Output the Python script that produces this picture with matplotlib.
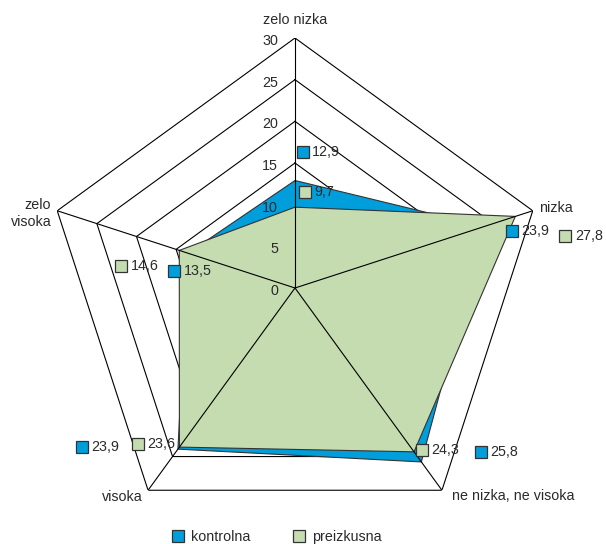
import numpy as np
import matplotlib
matplotlib.use("Agg")
import matplotlib.pyplot as plt
from matplotlib.lines import Line2D
from matplotlib.transforms import offset_copy

# data
categories = ["zelo nizka", "nizka", "ne nizka, ne visoka", "visoka", "zelo\nvisoka"]
kontrolna = [12.9, 23.9, 25.8, 23.9, 13.5]
preizkusna = [9.7, 27.8, 24.3, 23.6, 14.6]
ticks = [0, 5, 10, 15, 20, 25, 30]
series_names = ["kontrolna", "preizkusna"]

BLUE = "#009edb"
GREEN = "#c5dcb0"
EDGE = "#333333"
TXT = "#2a2a2a"

plt.rcParams["font.family"] = ["Liberation Sans", "DejaVu Sans"]
plt.rcParams["font.size"] = 10.3

fig = plt.figure(figsize=(6.06, 5.44), dpi=100)
# centre at (295, 288) px, radius 250 px
ax = fig.add_axes([45 / 606, 6 / 544, 500 / 606, 500 / 544], projection="polar")
ax.set_theta_offset(np.pi / 2)
ax.set_theta_direction(-1)
ax.set_ylim(0, 30)
ax.set_axis_off()

n = len(categories)
angles = np.linspace(0, 2 * np.pi, n, endpoint=False)
closed = np.append(angles, angles[0])

# pentagon grid
for t in ticks[1:]:
    ax.plot(closed, [t] * (n + 1), color="black", lw=0.8, zorder=1)

# series
kv = np.append(kontrolna, kontrolna[0])
pv = np.append(preizkusna, preizkusna[0])
ax.fill(closed, kv, facecolor=BLUE, edgecolor=EDGE, lw=0.8, zorder=2)
ax.fill(closed, pv, facecolor=GREEN, edgecolor=EDGE, lw=0.8, zorder=3)

# spokes
for a in angles:
    ax.plot([a, a], [0, 30], color="black", lw=0.8, zorder=4)

# radial tick labels
for t in ticks:
    ax.annotate(str(t), (0, t), xytext=(-17, -3), textcoords="offset pixels",
                ha="right", va="center", color=TXT, zorder=6)

# category labels (offsets in pixels, x right / y up)
cat_off = [(0, 18, "center"), (6, 3, "left"), (10, -6, "left"), (-5, -7, "right"), (-6, -3, "right")]
for a, lab, (dx, dy, ha) in zip(angles, categories, cat_off):
    ax.annotate(lab, (a, 30), xytext=(dx, dy), textcoords="offset pixels",
                ha=ha, va="center", color=TXT, linespacing=1.3, annotation_clip=False)

# value labels: square marker + text, offsets in pixels
k_off = [(7.5, 29), (27.6, -5), (59.6, 10), (-96.4, 2.6), (-14, -17.8)]
p_off = [(10, 15), (50, -20), (7.5, 1.8), (-41.4, 3), (-57.8, -15.1)]
for vals, offs, col in [(kontrolna, k_off, BLUE), (preizkusna, p_off, GREEN)]:
    for a, v, (dx, dy) in zip(angles, vals, offs):
        tr = offset_copy(ax.transData, fig=fig, x=dx, y=dy, units="dots")
        ax.plot([a], [v], marker="s", ms=8, mfc=col, mec=EDGE, mew=0.9,
                ls="none", transform=tr, zorder=7, clip_on=False)
        ax.annotate(f"{v:.1f}".replace(".", ","), (a, v), xytext=(dx + 9.5, dy),
                    textcoords="offset pixels", ha="left", va="center",
                    color=TXT, zorder=7, annotation_clip=False)

handles = [Line2D([], [], marker="s", ls="none", ms=8, mfc=c, mec=EDGE, mew=0.9)
           for c in (BLUE, GREEN)]
fig.legend(handles, series_names, loc="center", bbox_to_anchor=(277 / 606, 7 / 544),
           ncol=2, frameon=False, handlelength=0.8, handletextpad=0.5,
           columnspacing=3.0, labelcolor=TXT)

fig.savefig("out.png", dpi=100)
